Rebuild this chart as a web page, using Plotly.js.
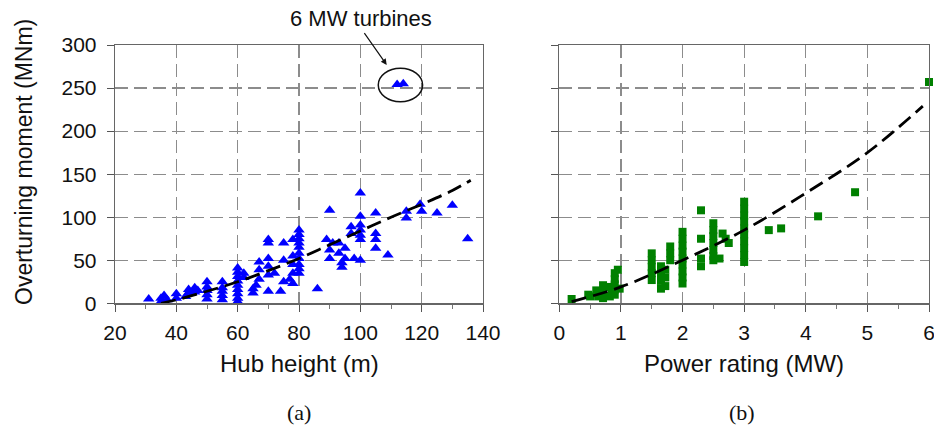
<!DOCTYPE html>
<html>
<head>
<meta charset="utf-8">
<script src="https://cdn.plot.ly/plotly-3.0.1.min.js"></script>
<style>html,body{margin:0;padding:0;background:#fff;}#chart{width:934px;height:439px;}</style>
</head>
<body>
<div id="chart"></div>
<script>
// Panel (a): hub height (m) vs overturning moment (MNm)
const hubHeight = [31,35,35,36,37,40,40,43,44,44,46,46,47,50,50,50,50,50,55,55,55,55,55,
  60,60,60,60,60,60,60,60,60,62,62,65,65,66,67,67,67,70,70,70,70,70,70,72,74,75,75,75,
  77,78,78,78,78,78,80,80,80,80,80,80,80,80,80,80,86,89,90,90,90,91,93,93,94,94,95,95,
  97,97,98,100,100,100,100,100,100,100,105,105,105,105,109,112,114,115,115,119.5,120,125,130,135];
const momentA = [5,2,6,9,4,6,11,8,12,16,13,18,15,5,10,15,19,25,4,9,14,18,25,
  2,6,11,16,21,26,31,36,41,30,35,12,17,21,28,39,48,14,33,43,52,70,74,35,14,25,50,70,
  28,23,35,45,55,74,35,40,45,52,58,65,70,75,80,85,17,74,108,62,52,70,70,58,47,42,64,52,
  89,81,52,128,101,91,85,79,74,50,105,81,74,64,56,254,255,107,99,115,107,105,114,75];
const fitAx = [35,40,50,60,70,80,90,100,110,120,130,136];
const fitAy = [0,4,14,25,38,52,68,84,100,115,131,143];

// Panel (b): power rating (MW) vs overturning moment (MNm)
const powerRating = [0.2,0.47,0.5,0.6,0.63,0.65,0.71,0.71,0.71,0.8,0.82,0.85,0.9,0.9,0.9,0.9,0.9,0.95,0.98,
  1.5,1.5,1.5,1.5,1.5,1.65,1.65,1.65,1.65,1.72,1.72,1.72,1.8,1.8,1.8,
  2,2,2,2,2,2,2,2,2,2.3,2.3,2.3,2.3,2.5,2.5,2.5,2.5,2.5,2.5,2.5,2.6,2.65,2.7,2.75,
  3,3,3,3,3,3,3,3,3,3,3.4,3.6,4.2,4.8,6];
const momentB = [5,10,8,15,8,12,21,12,6,19,8,14,35,28,22,16,10,39,17,
  58,50,42,35,27,43,35,26,17,39,30,20,66,58,50,
  83,75,67,60,52,45,37,30,23,108,75,52,43,93,85,78,70,62,55,50,52,81,75,70,
  118,110,102,95,87,80,72,64,56,48,85,87,101,129,257];
const fitBx = [0.2,1,2,3,4,5,5.9];
const fitBy = [2,19,50,85,128,175,229];

const xTicksA = [20,40,60,80,100,120,140];
const xTicksB = [0,1,2,3,4,5,6];
const yTicks = [0,50,100,150,200,250,300];

const W = 934, H = 439;
const px = v => v / W;
const py = v => 1 - v / H;

const sans = '"Liberation Sans", Arial, sans-serif';
const serif = '"Liberation Serif", "Times New Roman", serif';

const traces = [
  {x: hubHeight, y: momentA, type: 'scatter', mode: 'markers', xaxis: 'x', yaxis: 'y',
   marker: {symbol: 'triangle-up', size: 10, color: '#0000ff'}, cliponaxis: false},
  {x: fitAx, y: fitAy, type: 'scatter', mode: 'lines', xaxis: 'x', yaxis: 'y',
   line: {color: '#000', width: 2.8, dash: '15px,7px', shape: 'spline'}},
  {x: powerRating, y: momentB, type: 'scatter', mode: 'markers', xaxis: 'x2', yaxis: 'y2',
   marker: {symbol: 'square', size: 8, color: '#008000'}, cliponaxis: false},
  {x: fitBx, y: fitBy, type: 'scatter', mode: 'lines', xaxis: 'x2', yaxis: 'y2',
   line: {color: '#000', width: 2.8, dash: '15px,7px', shape: 'spline'}}
];

const common = {
  showline: true, linecolor: '#666', linewidth: 1.3, mirror: true,
  showgrid: true, gridcolor: '#8c8c8c', gridwidth: 1.2, griddash: '13px,6px',
  zeroline: false, ticks: 'outside', ticklen: 7, tickcolor: '#555', tickwidth: 1,
  ticklabeloverflow: 'allow',
  tickfont: {family: sans, size: 21, color: '#111'}
};

const layout = {
  width: W, height: H,
  margin: {l: 0, r: 0, t: 0, b: 0},
  paper_bgcolor: '#fff', plot_bgcolor: '#fff',
  showlegend: false,
  font: {family: sans},
  xaxis: Object.assign({}, common, {domain: [px(115), px(483)], range: [20, 140],
    tickvals: xTicksA, ticktext: xTicksA.map(String), anchor: 'y', ticklabelstandoff: 3,
    minor: {dtick: 10, tick0: 20, ticks: 'outside', ticklen: 4, tickcolor: '#777', showgrid: false}}),
  yaxis: Object.assign({}, common, {domain: [py(303.3), py(45)], range: [0, 300],
    tickvals: yTicks, ticktext: yTicks.map(String), anchor: 'x', ticklabelstandoff: 6}),
  xaxis2: Object.assign({}, common, {domain: [px(559.3), px(929)], range: [0, 6],
    tickvals: xTicksB, ticktext: xTicksB.map(String), anchor: 'y2', ticklabelstandoff: 3,
    minor: {dtick: 0.5, tick0: 0, ticks: 'outside', ticklen: 4, tickcolor: '#777', showgrid: false}}),
  yaxis2: Object.assign({}, common, {domain: [py(303.3), py(45)], range: [0, 300],
    tickvals: yTicks, showticklabels: false, anchor: 'x2'}),
  shapes: [
    {type: 'circle', xref: 'x', yref: 'y', x0: 105.85, x1: 120.3, y0: 234.1, y1: 272.9,
     line: {color: '#111', width: 1.5}}
  ],
  annotations: [
    {text: 'Overturning moment (MNm)', xref: 'paper', yref: 'paper', x: px(24), y: py(162),
     xanchor: 'center', yanchor: 'middle',
     textangle: -90, showarrow: false, font: {family: sans, size: 23, color: '#111'}},
    {text: 'Hub height (m)', xref: 'paper', yref: 'paper', x: px(299), y: py(363),
     xanchor: 'center', yanchor: 'middle', showarrow: false, font: {family: sans, size: 24, color: '#111'}},
    {text: 'Power rating (MW)', xref: 'paper', yref: 'paper', x: px(744), y: py(363),
     xanchor: 'center', yanchor: 'middle', showarrow: false, font: {family: sans, size: 24, color: '#111'}},
    {text: '(a)', xref: 'paper', yref: 'paper', x: px(299), y: py(412),
     xanchor: 'center', yanchor: 'middle', showarrow: false, font: {family: serif, size: 22, color: '#111'}},
    {text: '(b)', xref: 'paper', yref: 'paper', x: px(742), y: py(412),
     xanchor: 'center', yanchor: 'middle', showarrow: false, font: {family: serif, size: 22, color: '#111'}},
    {text: '6 MW turbines', xref: 'paper', yref: 'paper', x: px(361), y: py(19),
     xanchor: 'center', yanchor: 'middle', showarrow: false, font: {family: sans, size: 22, color: '#111'}},
    {text: '', xref: 'x', yref: 'y', x: 108.6, y: 276.8, ax: -23.4, ay: -33.3,
     showarrow: true, arrowhead: 2, arrowsize: 1, arrowwidth: 1.2, arrowcolor: '#111', standoff: 0}
  ]
};

Plotly.newPlot('chart', traces, layout, {staticPlot: true, displayModeBar: false});
</script>
</body>
</html>
